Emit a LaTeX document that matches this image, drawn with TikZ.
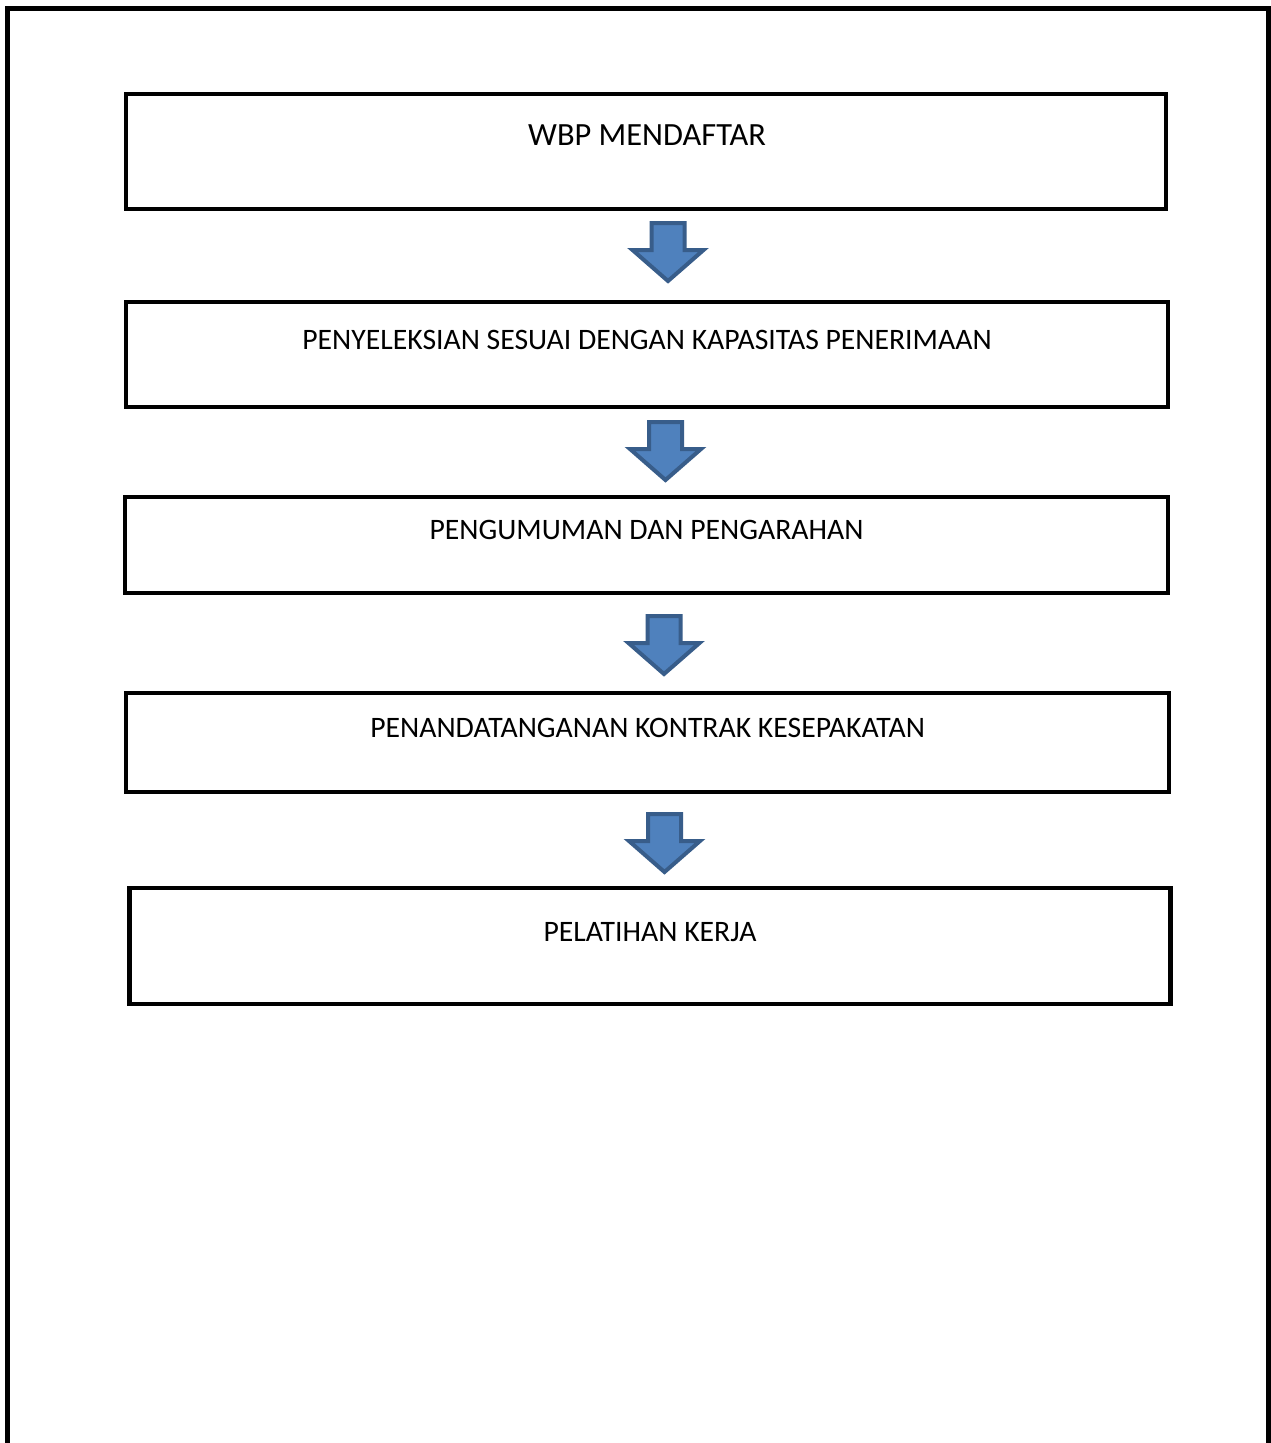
\documentclass[tikz,border=0pt]{standalone}
\usepackage{fontspec}
\setmainfont{Carlito}
\definecolor{arrowfill}{HTML}{4F81BD}
\definecolor{arrowline}{HTML}{385D8A}
\newcommand\flowdownarrow[3]{%
  \draw[blockarrow] (#2-16.5,-#3) -- (#2+16.5,-#3) -- (#2+16.5,-#3-27) -- (#2+35.5,-#3-27)
    -- (#2,-#3-58) -- (#2-35.5,-#3-27) -- (#2-16.5,-#3-27) -- cycle;
  \coordinate (#1) at (#2,-#3);}
\begin{document}
\begin{tikzpicture}[x=1pt,y=1pt,
  stepbox/.style={draw=black,line width=4.5pt,rectangle,inner sep=0pt},
  steptext/.style={anchor=base,font=\fontsize{29.7}{35}\selectfont,inner sep=0pt},
  bigtext/.style={steptext,font=\fontsize{32.4}{38}\selectfont},
  blockarrow/.style={fill=arrowfill,draw=arrowline,line width=4pt,line join=miter},
  frame/.style={draw=black,line width=5pt}]
\useasboundingbox (0,0) rectangle (1271,-1443);
\fill[white] (0,0) rectangle (1271,-1443);
\draw[frame] (7.5,-1460) -- (7.5,-8.5) -- (1268.5,-8.5) -- (1268.5,-1460);
% boxes: corners from reference
\path[stepbox] (126,-94) rectangle (1166,-209) node[pos=0.5,draw=none] (b1) {};
\path[stepbox] (126,-302) rectangle (1168,-407) node[pos=0.5,draw=none] (b2) {};
\path[stepbox] (125,-497) rectangle (1168,-593) node[pos=0.5,draw=none] (b3) {};
\path[stepbox] (126,-693) rectangle (1169,-792) node[pos=0.5,draw=none] (b4) {};
\path[stepbox] (129.5,-888) rectangle (1170.5,-1004) node[pos=0.5,draw=none] (b5) {};
\node[bigtext] (t1) at (647,-145) {WBP MENDAFTAR};
\node[steptext] (t2) at (647,-349) {PENYELEKSIAN SESUAI DENGAN KAPASITAS PENERIMAAN};
\node[steptext] (t3) at (646.5,-539) {PENGUMUMAN DAN PENGARAHAN};
\node[steptext] (t4) at (647.5,-737) {PENANDATANGANAN KONTRAK KESEPAKATAN};
\node[steptext] (t5) at (650,-941) {PELATIHAN KERJA};
\flowdownarrow{a1}{668}{223}
\flowdownarrow{a2}{665.5}{422}
\flowdownarrow{a3}{664}{616}
\flowdownarrow{a4}{664.5}{814}
\end{tikzpicture}
\end{document}
